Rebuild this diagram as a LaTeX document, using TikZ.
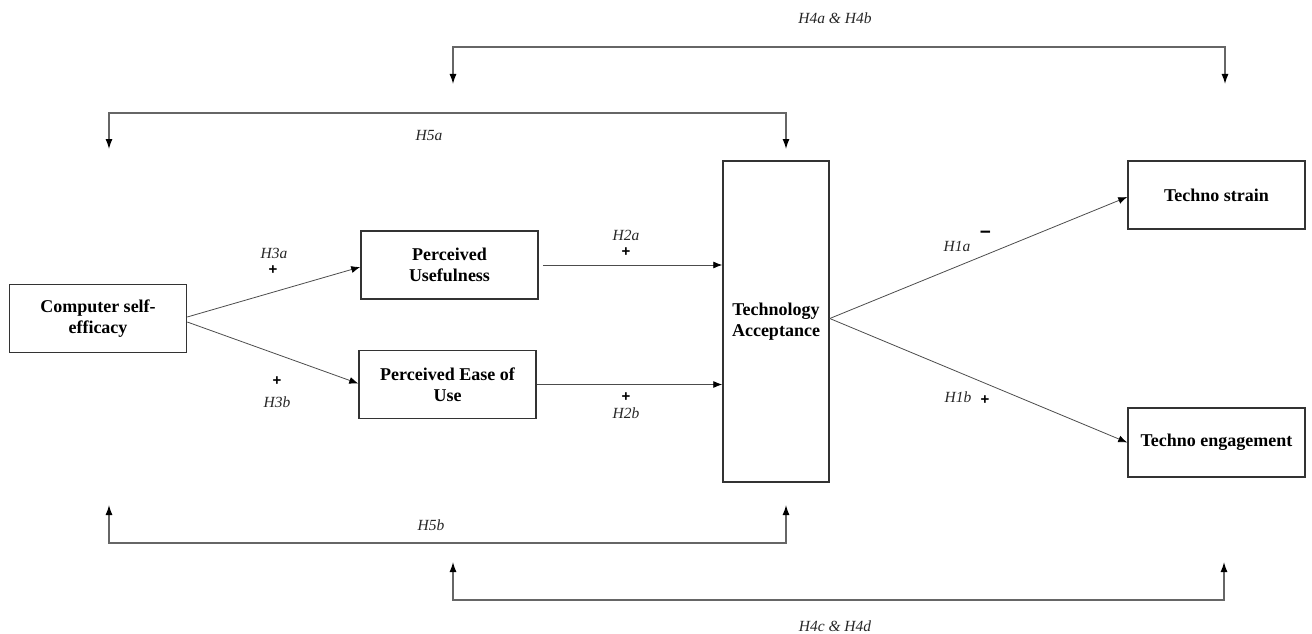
\documentclass[tikz,border=0pt]{standalone}
\usepackage{fontspec}
\setmainfont{Liberation Serif}
\newfontfamily\signfont{Liberation Sans}
\usetikzlibrary{arrows.meta}
\tikzset{
  box/.style={draw=black!80, line width=1.5pt, fill=white, align=center, inner sep=0pt,
    font=\fontsize{18}{21}\selectfont\bfseries},
  conn/.style={draw=black!70, line width=0.8pt, -{Latex[length=9pt,width=7pt,black]}},
  brk/.style={draw=black!60, line width=1.3pt, {Latex[length=10pt,width=7pt,black]}-{Latex[length=10pt,width=7pt,black]}},
  hyp/.style={font=\fontsize{15.5}{18}\selectfont\itshape, text=black!85, inner sep=0pt},
  sgn/.style={font=\signfont\fontsize{15}{18}\selectfont\bfseries, inner sep=0pt},
}
\begin{document}
\begin{tikzpicture}[x=1pt,y=-1pt]
\useasboundingbox (0,0) rectangle (1312,634);
% boxes
\node[box, minimum width=177pt, minimum height=68pt] (cse) at (98,318.5) {Computer self-\\efficacy};
\node[box, minimum width=177pt, minimum height=68pt] (pu) at (449.5,265) {Perceived\\Usefulness};
\node[box, minimum width=177pt, minimum height=68pt] (peu) at (447.5,384.5) {Perceived Ease of\\Use};
\node[box, minimum width=106pt, minimum height=321pt] (ta) at (776,321.5) {Technology\\Acceptance};
\node[box, minimum width=177pt, minimum height=68pt] (ts) at (1216.5,195) {Techno strain};
\node[box, minimum width=177pt, minimum height=69pt] (te) at (1216.5,442.5) {Techno engagement};
% connectors
\draw[conn] ([yshift=1.5pt]cse.east) -- ([yshift=-2pt]pu.west);
\draw[conn] ([yshift=-3.5pt]cse.east) -- ([yshift=1pt]peu.west);
\draw[conn] ([xshift=4pt]pu.east) -- (pu.east -| ta.west);
\draw[conn] (peu.east) -- (peu.east -| ta.west);
\draw[conn] ([yshift=3pt]ta.east) -- ([yshift=-2pt]ts.west);
\draw[conn] ([yshift=3pt]ta.east) -- (te.west);
% brackets
\coordinate (h4aL) at (453,84);
\coordinate (h4aR) at (1225,84);
\coordinate (h5aL) at (109,149);
\coordinate (h5aR) at (786,149);
\coordinate (h5bL) at (109,505);
\coordinate (h5bR) at (786,505);
\coordinate (h4cL) at (453,562);
\coordinate (h4cR) at (1224,562);
\draw[brk] (h4aL) -- ++(0,-37) -| (h4aR);
\draw[brk] (h5aL) -- ++(0,-36) -| (h5aR);
\draw[brk] (h5bL) -- ++(0,38) -| (h5bR);
\draw[brk] (h4cL) -- ++(0,38) -| (h4cR);
% labels
\node[hyp] (l4ab) at (835,18) {H4a \& H4b};
\node[hyp] (l5a) at (429,136) {H5a};
\node[hyp] (l5b) at (431,525) {H5b};
\node[hyp] (l4cd) at (835,626) {H4c \& H4d};
\node[hyp] (l3a) at (274,253) {H3a};
\node[sgn] (s3a) at (273,270) {+};
\node[sgn] (s3b) at (277,381) {+};
\node[hyp] (l3b) at (277,402) {H3b};
\node[hyp] (l2a) at (626,235) {H2a};
\node[sgn] (s2a) at (626,252) {+};
\node[sgn] (s2b) at (626,397) {+};
\node[hyp] (l2b) at (626,413) {H2b};
\node[hyp] (l1a) at (957,246) {H1a};
\node[font=\signfont\fontsize{19}{22}\selectfont\bfseries, inner sep=0pt] (s1a) at (985.5,235) {−};
\node[hyp] (l1b) at (958,397) {H1b};
\node[sgn] (s1b) at (985,400) {+};
\end{tikzpicture}
\end{document}
